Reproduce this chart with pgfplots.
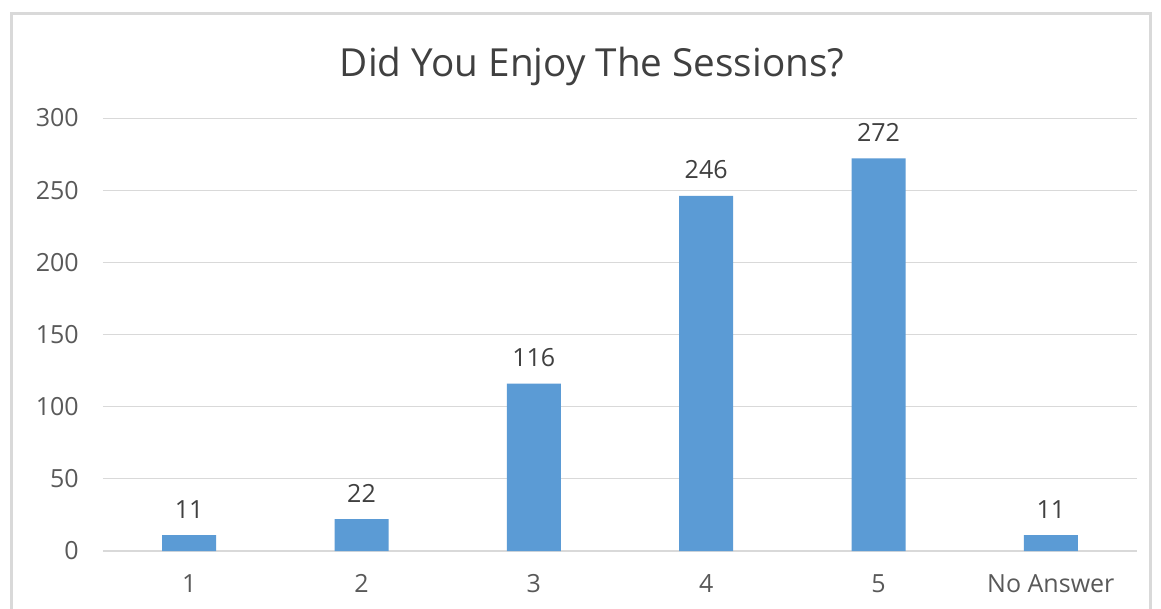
\documentclass[border=0pt]{standalone}
\usepackage{pgfplots}
\pgfplotsset{compat=1.18}
\usepackage{fontspec}
\setmainfont{Open Sans}
\definecolor{barblue}{HTML}{5B9BD5}
\definecolor{gridgray}{HTML}{D9D9D9}
\definecolor{ticktext}{HTML}{595959}
\definecolor{labeltext}{HTML}{404040}
\begin{document}
\begin{tikzpicture}[x=0.6pt,y=0.6pt]
  % canvas and chart frame
  \useasboundingbox (0,0) rectangle (1161,608);
  \fill[white] (0,0) rectangle (1161,608);
  \draw[gridgray, line width=1.8pt] (11,-20) -- (11,594) -- (1150,594) -- (1150,-20);
  \begin{axis}[
    at={(61.8pt,34.2pt)}, anchor=south west,
    scale only axis,
    width=620.4pt, height=259.8pt,
    ybar, bar width=32.4pt,
    xmin=-0.5, xmax=5.5,
    ymin=0, ymax=300,
    xtick=data,
    xticklabels={1,2,3,4,5,No Answer},
    ytick={0,50,...,300},
    ymajorgrids, grid style={gridgray, line width=0.6pt},
    axis x line*=bottom, axis y line*=left,
    y axis line style={draw=none},
    x axis line style={gridgray, line width=0.8pt, -},
    major tick length=0pt,
    tick label style={font=\fontsize{15}{18}\selectfont, text=ticktext},
    yticklabel style={anchor=east, xshift=-11pt},
    xticklabel style={yshift=-10.5pt},
    /pgf/number format/assume math mode=true,
    title={Did You Enjoy The Sessions?},
    title style={at={(axis description cs:0.473,1.097)}, anchor=center,
      font=\fontsize{23.2}{28}\selectfont, text=labeltext},
    nodes near coords,
    every node near coord/.append style={font=\fontsize{15}{18}\selectfont,
      text=labeltext, yshift=6.5pt},
    clip=false,
  ]
    \addplot[fill=barblue, draw=none] coordinates {
      (0,11) (1,22) (2,116) (3,246) (4,272) (5,11)
    };
  \end{axis}
\end{tikzpicture}
\end{document}
